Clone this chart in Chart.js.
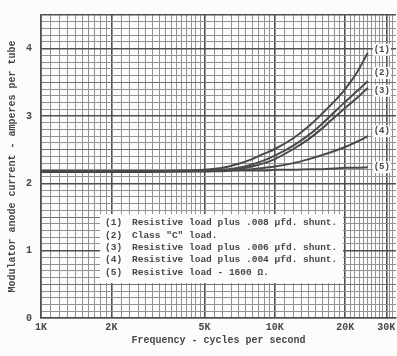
<!DOCTYPE html>
<html>
<head>
<meta charset="utf-8">
<script src="https://cdn.jsdelivr.net/npm/chart.js@4.4.0/dist/chart.umd.min.js"></script>
<style>
  html, body { margin: 0; padding: 0; background: #fcfcfa; }
  canvas { display: block; }
</style>
</head>
<body>
<canvas id="chart" width="397" height="356"></canvas>
<script>
// frequencies (cycles per second) where the curves were read
const freqs = [1000, 2000, 3000, 4000, 5000, 6000, 7000, 8000, 9000, 10000, 12000, 14000, 16000, 18000, 20000, 22500, 25000];

// anode current, amperes per tube
const curve1 = [2.18, 2.18, 2.18, 2.19, 2.20, 2.23, 2.29, 2.36, 2.44, 2.51, 2.67, 2.85, 3.04, 3.22, 3.40, 3.65, 3.94];
const curve2 = [2.18, 2.18, 2.18, 2.18, 2.19, 2.20, 2.23, 2.28, 2.34, 2.41, 2.56, 2.72, 2.89, 3.06, 3.21, 3.37, 3.52];
const curve3 = [2.18, 2.18, 2.18, 2.18, 2.18, 2.19, 2.21, 2.25, 2.30, 2.36, 2.51, 2.66, 2.82, 2.98, 3.12, 3.27, 3.42];
const curve4 = [2.18, 2.18, 2.18, 2.18, 2.18, 2.19, 2.20, 2.21, 2.23, 2.25, 2.30, 2.36, 2.42, 2.48, 2.54, 2.62, 2.70];
const curve5 = [2.17, 2.17, 2.17, 2.18, 2.18, 2.18, 2.19, 2.19, 2.19, 2.20, 2.20, 2.21, 2.21, 2.22, 2.23, 2.23, 2.24];

const curveTags = ['(1)', '(2)', '(3)', '(4)', '(5)'];
const legendLines = [
  'Resistive load plus .008 \u00b5fd. shunt.',
  'Class "C" load.',
  'Resistive load plus .006 \u00b5fd. shunt.',
  'Resistive load plus .004 \u00b5fd. shunt.',
  'Resistive load - 1600 \u03a9.'
];

const xLabelValues = [1000, 2000, 5000, 10000, 20000, 30000];
const xLabelTexts = ['1K', '2K', '5K', '10K', '20K', '30K'];
const yLabelValues = [0, 1, 2, 3, 4];

const INK = '#484848';
const MONO = '"Liberation Mono", "DejaVu Sans Mono", monospace';

// graph paper rulings
function xRulings() {
  const out = [];
  const push = (a, b, step) => { for (let v = a; v < b - 1; v += step) out.push(v); };
  push(1000, 2000, 100);
  push(2000, 5000, 200);
  push(5000, 10000, 500);
  push(10000, 20000, 1000);
  push(20000, 33001, 1000);
  return out;
}

const series = [curve1, curve2, curve3, curve4, curve5];

const tagPlugin = {
  id: 'curveTags',
  afterDatasetsDraw(chart, args, opts) {
    const ctx = chart.ctx;
    ctx.save();
    ctx.font = 'bold 9px ' + MONO;
    ctx.textAlign = 'center';
    ctx.textBaseline = 'middle';
    chart.data.datasets.forEach((ds, i) => {
      const pts = chart.getDatasetMeta(i).data;
      const last = pts[pts.length - 1];
      const x = last.x + 14;
      const y = last.y + opts.offsets[i];
      ctx.fillStyle = '#fcfcfa';
      ctx.fillRect(x - 9, y - 6, 18, 12);
      ctx.fillStyle = INK;
      ctx.fillText(curveTags[i], x, y);
    });
    ctx.restore();
  }
};

const legendPlugin = {
  id: 'boxLegend',
  afterDatasetsDraw(chart, args, opts) {
    const ctx = chart.ctx;
    ctx.save();
    ctx.fillStyle = '#fcfcfa';
    ctx.fillRect(opts.x, opts.y, opts.w, opts.h);
    ctx.font = 'bold 9.5px ' + MONO;
    ctx.fillStyle = INK;
    ctx.textBaseline = 'middle';
    legendLines.forEach((line, i) => {
      const y = opts.y + 9 + i * 12.3;
      ctx.fillText(curveTags[i], opts.x + 5, y);
      ctx.fillText(line, opts.x + 32, y);
    });
    ctx.restore();
  }
};

const ctx = document.getElementById('chart').getContext('2d');

new Chart(ctx, {
  type: 'line',
  data: {
    datasets: series.map((vals, i) => ({
      label: curveTags[i],
      data: freqs.map((f, k) => ({ x: f, y: vals[k] })),
      borderColor: '#4a4a4a',
      borderWidth: 2,
      pointRadius: 0,
      fill: false,
      cubicInterpolationMode: 'monotone'
    }))
  },
  options: {
    responsive: false,
    animation: false,
    devicePixelRatio: 1,
    layout: { padding: { top: 7, right: 1, left: 0, bottom: 0 } },
    plugins: {
      legend: { display: false },
      tooltip: { enabled: false },
      curveTags: { offsets: [-3, -8, 3, -5, 0] },
      boxLegend: { x: 100, y: 214, w: 243, h: 69 }
    },
    scales: {
      x: {
        type: 'logarithmic',
        min: 1000,
        max: 33000,
        afterFit(scale) { scale.height = 38; },
        afterBuildTicks(scale) {
          scale.ticks = xRulings().map(v => ({ value: v }));
        },
        ticks: {
          autoSkip: false,
          maxRotation: 0,
          padding: 3,
          color: INK,
          font: { family: MONO, size: 10, weight: 'bold' },
          callback(value) {
            const k = xLabelValues.indexOf(Math.round(value));
            return k >= 0 ? xLabelTexts[k] : '';
          }
        },
        grid: {
          drawTicks: false,
          color: c => xLabelValues.includes(Math.round(c.tick.value)) ? '#505050' : '#929292',
          lineWidth: c => xLabelValues.includes(Math.round(c.tick.value)) ? 1.6 : 1
        },
        border: { color: '#505050', width: 1.6 },
        title: {
          display: true,
          text: 'Frequency - cycles per second',
          color: INK,
          font: { family: MONO, size: 10, weight: 'bold' },
          padding: { top: 0, bottom: 10 }
        }
      },
      y: {
        min: 0,
        max: 4.5,
        afterFit(scale) { scale.width = 41; },
        afterBuildTicks(scale) {
          const t = [];
          for (let i = 0; i <= 45; i++) t.push({ value: i / 10 });
          scale.ticks = t;
        },
        ticks: {
          autoSkip: false,
          padding: 9,
          color: INK,
          font: { family: MONO, size: 10, weight: 'bold' },
          callback(value) {
            const r = Math.round(value);
            return Math.abs(value - r) < 1e-6 && yLabelValues.includes(r) ? String(r) : '';
          }
        },
        grid: {
          drawTicks: false,
          color(c) {
            const v = Math.round(c.tick.value * 10);
            if (v % 10 === 0 || v === 45) return '#505050';
            return v % 5 === 0 ? '#727272' : '#929292';
          },
          lineWidth(c) {
            const v = Math.round(c.tick.value * 10);
            return (v % 10 === 0 || v === 45) ? 1.6 : 1;
          }
        },
        border: { color: '#505050', width: 1.6 },
        title: {
          display: true,
          text: 'Modulator anode current - amperes per tube',
          color: INK,
          font: { family: MONO, size: 10, weight: 'bold' },
          padding: { top: 6, bottom: 0 }
        }
      }
    }
  },
  plugins: [tagPlugin, legendPlugin]
});
</script>
</body>
</html>
